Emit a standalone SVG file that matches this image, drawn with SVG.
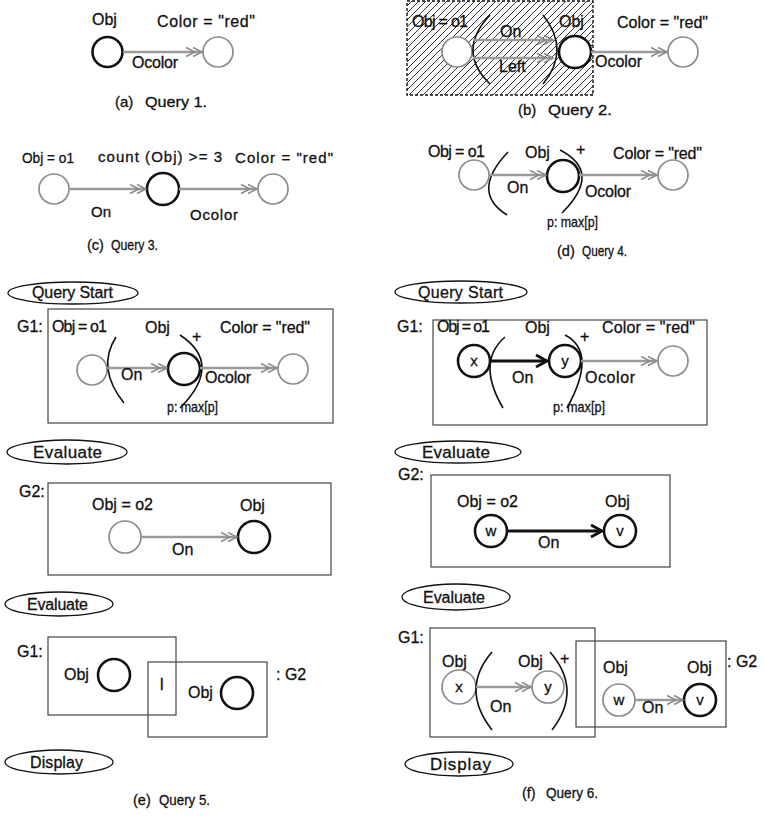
<svg xmlns="http://www.w3.org/2000/svg" width="764" height="821" viewBox="0 0 764 821">
<defs>
<style>
.t{font-family:"Liberation Sans",Arial,Helvetica,sans-serif;font-size:16px;fill:#111;stroke:#111;stroke-width:0.3}
.f14{font-size:14.5px}
.f15{font-size:15px}
.f17{font-size:17px}
.m{text-anchor:middle}
.gc{fill:#fff;stroke:#8c8c8c;stroke-width:1.7}
.bc{fill:#fff;stroke:#111;stroke-width:2.6}
.ga{stroke:#9a9a9a;stroke-width:2.3;fill:none;marker-end:url(#dbl)}
.ba{stroke:#111;stroke-width:2.8;fill:none;marker-end:url(#vh)}
.box{fill:none;stroke:#444;stroke-width:1.2}
.par{fill:none;stroke:#111;stroke-width:1.6}
.el{fill:#fff;stroke:#111;stroke-width:1.3}
</style>
<pattern id="hatch" patternUnits="userSpaceOnUse" width="7" height="7">
<path d="M-1,1 L1,-1 M0,7 L7,0 M6,8 L8,6" stroke="#333" stroke-width="1"/>
</pattern>
<marker id="dbl" markerUnits="userSpaceOnUse" markerWidth="20" markerHeight="12" viewBox="-18 -6 20 12" refX="0" refY="0" orient="auto">
<path d="M-16,-4.5 L-7,0 L-16,4.5 M-9,-4.5 L0,0 L-9,4.5" fill="none" stroke="#8a8a8a" stroke-width="1.4"/>
</marker>
<marker id="vh" markerUnits="userSpaceOnUse" markerWidth="16" markerHeight="16" viewBox="-13 -8 16 16" refX="0" refY="0" orient="auto">
<path d="M-11,-6 L0,0 L-11,6" fill="none" stroke="#111" stroke-width="2.8"/>
</marker>
</defs>
<rect width="764" height="821" fill="#fff"/>

<!-- (a) -->
<g id="a-obj"><circle class="bc" cx="107.5" cy="52" r="15"/><text class="t" x="92" y="25">Obj</text></g>
<g id="a-color"><circle class="gc" cx="218" cy="52" r="15"/><text class="t" x="157" y="27" textLength="98">Color = &quot;red&quot;</text></g>
<g id="a-caption"><text class="t f15" x="115" y="107">(a)</text><text class="t f15" x="145" y="107" textLength="62" lengthAdjust="spacingAndGlyphs">Query 1.</text></g>

<!-- (b) -->
<g id="b-hatch"><rect x="407" y="1" width="186" height="94" fill="url(#hatch)" stroke="#111" stroke-width="1.4" stroke-dasharray="3 2"/></g>
<g id="b-o1"><circle class="gc" cx="457" cy="52" r="15"/><text class="t" x="412" y="27" textLength="56">Obj = o1</text></g>
<g id="b-paren"><path class="par" d="M490,15 Q456,51 490,84"/><path class="par" d="M543,15 Q571,50 543,84"/></g>
<g id="b-obj"><circle class="bc" cx="575" cy="52" r="16"/><text class="t" x="559" y="27">Obj</text></g>
<g id="b-color"><circle class="gc" cx="683" cy="52" r="15"/><text class="t" x="617" y="28" textLength="91">Color = &quot;red&quot;</text></g>
<g id="b-caption"><text class="t f15" x="518" y="115">(b)</text><text class="t f15" x="548" y="115" textLength="64" lengthAdjust="spacingAndGlyphs">Query 2.</text></g>

<!-- (c) -->
<g id="c-o1"><circle class="gc" cx="54" cy="189" r="15"/><text class="t f15" x="22" y="163" textLength="52" lengthAdjust="spacingAndGlyphs">Obj = o1</text></g>
<g id="c-obj"><circle class="bc" cx="163" cy="189" r="16"/><text class="t f15" x="98" y="162" textLength="124">count (Obj) &gt;= 3</text></g>
<g id="c-color"><circle class="gc" cx="273" cy="189" r="15"/><text class="t f15" x="235" y="163" textLength="98">Color = &quot;red&quot;</text></g>
<g id="c-caption"><text class="t f14" x="87" y="250">(c)</text><text class="t f14" x="111" y="250" textLength="47" lengthAdjust="spacingAndGlyphs">Query 3.</text></g>

<!-- (d) -->
<g id="d-o1"><circle class="gc" cx="474" cy="175" r="15"/><text class="t" x="428" y="157" textLength="57">Obj = o1</text></g>
<g id="d-paren"><path class="par" d="M508,152 Q470,192 507,215"/><path class="par" d="M560,150 Q603,172 562,213"/><text class="t" x="576" y="155">+</text></g>
<g id="d-obj"><circle class="bc" cx="563" cy="176" r="16"/><text class="t" x="525" y="158">Obj</text><text class="t f14" x="547" y="227" textLength="51" lengthAdjust="spacingAndGlyphs">p: max[p]</text></g>
<g id="d-color"><circle class="gc" cx="673" cy="175" r="15"/><text class="t" x="613" y="159" textLength="89">Color = &quot;red&quot;</text></g>
<g id="d-caption"><text class="t f14" x="557" y="256">(d)</text><text class="t f14" x="582" y="256" textLength="45" lengthAdjust="spacingAndGlyphs">Query 4.</text></g>

<!-- (e) -->
<g id="e-start"><ellipse class="el" cx="73" cy="293" rx="65" ry="11"/><text class="t" x="32" y="298" textLength="81">Query Start</text></g>
<g id="e-g1"><rect class="box" x="48" y="309" width="285" height="114"/><text class="t" x="17" y="332">G1:</text></g>
<g id="e-g1-o1"><circle class="gc" cx="92" cy="370" r="15"/><text class="t" x="52" y="332" textLength="55">Obj = o1</text></g>
<g id="e-g1-paren"><path class="par" d="M116,337 Q96,368 124,403"/><path class="par" d="M180,335 Q224,364 180,408"/><text class="t" x="192" y="342">+</text></g>
<g id="e-g1-obj"><circle class="bc" cx="184" cy="369" r="16"/><text class="t" x="145" y="333">Obj</text><text class="t f14" x="167" y="412" textLength="51" lengthAdjust="spacingAndGlyphs">p: max[p]</text></g>
<g id="e-g1-color"><circle class="gc" cx="293" cy="369" r="15"/><text class="t" x="220" y="333" textLength="90">Color = &quot;red&quot;</text></g>
<g id="e-eval1"><ellipse class="el" cx="67" cy="452" rx="60" ry="12"/><text class="t f17" x="33" y="458" textLength="69">Evaluate</text></g>
<g id="e-g2"><rect class="box" x="48" y="483" width="283" height="92"/><text class="t" x="19" y="497">G2:</text></g>
<g id="e-g2-o2"><circle class="gc" cx="125" cy="537" r="16"/><text class="t" x="92" y="510" textLength="61">Obj = o2</text></g>
<g id="e-g2-obj"><circle class="bc" cx="254" cy="537" r="16"/><text class="t" x="240" y="511">Obj</text></g>
<g id="e-eval2"><ellipse class="el" cx="59" cy="604" rx="54" ry="12"/><text class="t" x="27" y="610" textLength="61">Evaluate</text></g>
<g id="e-res-g1"><rect class="box" x="48" y="637" width="128" height="78"/><text class="t" x="17" y="657">G1:</text></g>
<g id="e-res-g2"><rect class="box" x="148" y="662" width="119" height="75"/><text class="t" x="276" y="680">: G2</text></g>
<g id="e-res-obj1"><circle class="bc" cx="114" cy="675" r="16"/><text class="t" x="64" y="680">Obj</text></g>
<g id="e-res-int"><text class="t" x="160" y="690">l</text></g>
<g id="e-res-obj2"><circle class="bc" cx="237" cy="693" r="16"/><text class="t" x="188" y="698">Obj</text></g>
<g id="e-display"><ellipse class="el" cx="59" cy="762" rx="54" ry="12"/><text class="t" x="30" y="768" textLength="53">Display</text></g>
<g id="e-caption"><text class="t f14" x="133" y="805">(e)</text><text class="t f14" x="159" y="805" textLength="51" lengthAdjust="spacingAndGlyphs">Query 5.</text></g>

<!-- (f) -->
<g id="f-start"><ellipse class="el" cx="461" cy="292" rx="66" ry="11"/><text class="t" x="418" y="298" textLength="85">Query Start</text></g>
<g id="f-g1"><rect class="box" x="433" y="320" width="274" height="105"/><text class="t" x="397" y="332">G1:</text></g>
<g id="f-g1-x"><circle class="bc" cx="474" cy="361" r="16"/><text class="t f15 m" x="474" y="366">x</text><text class="t" x="437" y="332" textLength="53">Obj = o1</text></g>
<g id="f-g1-paren"><path class="par" d="M505,337 Q476,362 503,408"/><path class="par" d="M565,335 Q598,352 567,408"/><text class="t" x="580" y="342">+</text></g>
<g id="f-g1-y"><circle class="bc" cx="565" cy="361" r="16"/><text class="t f15 m" x="565" y="366">y</text><text class="t" x="525" y="333">Obj</text><text class="t f14" x="553" y="412" textLength="52" lengthAdjust="spacingAndGlyphs">p: max[p]</text></g>
<g id="f-g1-color"><circle class="gc" cx="673" cy="361" r="15"/><text class="t" x="602" y="333" textLength="93">Color = &quot;red&quot;</text></g>
<g id="f-eval1"><ellipse class="el" cx="458" cy="452" rx="63" ry="11"/><text class="t f17" x="422" y="458" textLength="68">Evaluate</text></g>
<g id="f-g2"><rect class="box" x="431" y="475" width="239" height="92"/><text class="t" x="398" y="480">G2:</text></g>
<g id="f-g2-w"><circle class="bc" cx="491" cy="531" r="16"/><text class="t f15 m" x="491" y="536">w</text><text class="t" x="457" y="507" textLength="61">Obj = o2</text></g>
<g id="f-g2-v"><circle class="bc" cx="620" cy="531" r="16"/><text class="t f15 m" x="620" y="536">v</text><text class="t" x="605" y="507">Obj</text></g>
<g id="f-eval2"><ellipse class="el" cx="456" cy="597" rx="54" ry="13"/><text class="t" x="423" y="603" textLength="62">Evaluate</text></g>
<g id="f-res-g1"><rect class="box" x="430" y="628" width="165" height="109"/><text class="t" x="398" y="643">G1:</text></g>
<g id="f-res-g2"><rect class="box" x="576" y="641" width="150" height="86"/><text class="t" x="727" y="667">: G2</text></g>
<g id="f-res-x"><circle class="gc" cx="459" cy="687" r="17"/><text class="t f15 m" x="459" y="692">x</text><text class="t" x="442" y="667">Obj</text></g>
<g id="f-res-paren"><path class="par" d="M492,652 Q460,689 492,730"/><path class="par" d="M550,652 Q583,690 552,730"/><text class="t" x="560" y="664">+</text></g>
<g id="f-res-y"><circle class="gc" cx="548" cy="687" r="16"/><text class="t f15 m" x="548" y="692">y</text><text class="t" x="518" y="667">Obj</text></g>
<g id="f-res-w"><circle class="gc" cx="619" cy="700" r="16"/><text class="t f15 m" x="619" y="705">w</text><text class="t" x="603" y="673">Obj</text></g>
<g id="f-res-v"><circle class="bc" cx="700" cy="700" r="16"/><text class="t f15 m" x="700" y="705">v</text><text class="t" x="687" y="673">Obj</text></g>
<g id="f-display"><ellipse class="el" cx="459" cy="764" rx="54" ry="12"/><text class="t f17" x="430" y="770" textLength="61">Display</text></g>
<g id="f-caption"><text class="t f14" x="522" y="798">(f)</text><text class="t f14" x="546" y="798" textLength="52" lengthAdjust="spacingAndGlyphs">Query 6.</text></g>

<g id="connectors">
<line class="ga" x1="123" y1="52" x2="202" y2="52"/>
<text class="t" x="132" y="68" textLength="46">Ocolor</text>
<line class="ga" x1="473" y1="40" x2="553" y2="40"/>
<text class="t" x="500" y="37">On</text>
<line class="ga" x1="473" y1="58" x2="553" y2="58"/>
<text class="t" x="499" y="72">Left</text>
<line class="ga" x1="591" y1="52" x2="667" y2="52"/>
<text class="t" x="595" y="67" textLength="47">Ocolor</text>
<line class="ga" x1="69" y1="189" x2="146" y2="189"/>
<text class="t f15" x="91" y="217">On</text>
<line class="ga" x1="179" y1="189" x2="257" y2="189"/>
<text class="t f15" x="190" y="220" textLength="48">Ocolor</text>
<line class="ga" x1="489" y1="175" x2="546" y2="175"/>
<text class="t" x="507" y="193">On</text>
<line class="ga" x1="579" y1="175" x2="657" y2="175"/>
<text class="t" x="585" y="197" textLength="46">Ocolor</text>
<line class="ga" x1="107" y1="368" x2="167" y2="368"/>
<text class="t" x="121" y="380">On</text>
<line class="ga" x1="200" y1="368" x2="277" y2="368"/>
<text class="t" x="205" y="383" textLength="46">Ocolor</text>
<line class="ga" x1="141" y1="537" x2="237" y2="537"/>
<text class="t" x="172" y="555">On</text>
<line class="ba" x1="490" y1="361" x2="547" y2="361"/>
<text class="t" x="512" y="383">On</text>
<line class="ga" x1="581" y1="361" x2="657" y2="361"/>
<text class="t" x="585" y="383" textLength="50">Ocolor</text>
<line class="ba" x1="507" y1="531" x2="602" y2="531"/>
<text class="t" x="538" y="548">On</text>
<line class="ga" x1="476" y1="687" x2="531" y2="687"/>
<text class="t" x="490" y="712">On</text>
<line class="ga" x1="635" y1="700" x2="683" y2="700"/>
<text class="t" x="642" y="713">On</text>
</g>
</svg>
